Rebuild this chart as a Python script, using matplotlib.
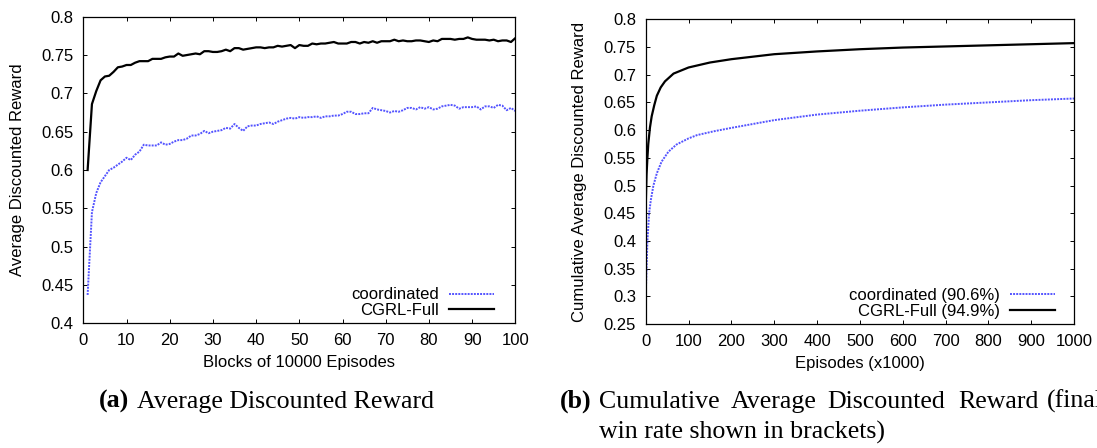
import matplotlib
matplotlib.use('Agg')
import matplotlib.pyplot as plt
import numpy as np

plt.rcParams['font.family'] = ['Liberation Sans', 'DejaVu Sans']

# ---------------- data (a): average discounted reward per block ----------------
blocks = np.arange(1, 101)
cgrl_a = [0.600, 0.686, 0.703, 0.717, 0.722, 0.723, 0.728, 0.734, 0.735, 0.737,
          0.737, 0.740, 0.742, 0.742, 0.742, 0.745, 0.745, 0.745, 0.747, 0.748,
          0.748, 0.752, 0.749, 0.750, 0.751, 0.752, 0.751, 0.755, 0.755, 0.754,
          0.754, 0.755, 0.757, 0.755, 0.759, 0.759, 0.757, 0.758, 0.759, 0.760,
          0.760, 0.759, 0.760, 0.760, 0.762, 0.761, 0.762, 0.763, 0.759, 0.763,
          0.762, 0.762, 0.765, 0.764, 0.765, 0.765, 0.766, 0.767, 0.765, 0.765,
          0.765, 0.767, 0.767, 0.765, 0.767, 0.766, 0.768, 0.766, 0.768, 0.768,
          0.768, 0.770, 0.768, 0.769, 0.768, 0.768, 0.769, 0.769, 0.768, 0.767,
          0.769, 0.768, 0.771, 0.771, 0.771, 0.770, 0.771, 0.771, 0.773, 0.771,
          0.770, 0.770, 0.770, 0.769, 0.770, 0.768, 0.769, 0.769, 0.767, 0.772]
coord_a = [0.437, 0.545, 0.570, 0.584, 0.592, 0.600, 0.603, 0.607, 0.611, 0.616,
           0.613, 0.620, 0.624, 0.633, 0.632, 0.632, 0.632, 0.636, 0.633, 0.634,
           0.637, 0.639, 0.639, 0.641, 0.645, 0.645, 0.647, 0.651, 0.648, 0.650,
           0.651, 0.652, 0.655, 0.654, 0.660, 0.655, 0.651, 0.657, 0.658, 0.658,
           0.660, 0.661, 0.662, 0.660, 0.663, 0.665, 0.667, 0.668, 0.667, 0.669,
           0.668, 0.669, 0.669, 0.670, 0.668, 0.670, 0.670, 0.671, 0.671, 0.673,
           0.676, 0.676, 0.673, 0.673, 0.674, 0.674, 0.681, 0.679, 0.678, 0.677,
           0.675, 0.677, 0.676, 0.678, 0.681, 0.681, 0.679, 0.682, 0.680, 0.682,
           0.679, 0.680, 0.683, 0.684, 0.685, 0.684, 0.680, 0.682, 0.682, 0.682,
           0.683, 0.679, 0.683, 0.683, 0.681, 0.685, 0.684, 0.678, 0.681, 0.677]

# ---------------- data (b): cumulative average discounted reward ----------------
ep_cgrl = [0, 1, 2, 4, 6, 10, 14, 20, 26, 35, 45, 65, 100, 150, 200, 300, 400,
           500, 600, 700, 800, 900, 1000]
cgrl_b = [0.460, 0.490, 0.520, 0.550, 0.575, 0.605, 0.625, 0.645, 0.662, 0.677,
          0.688, 0.702, 0.713, 0.722, 0.728, 0.737, 0.742, 0.746, 0.749, 0.751,
          0.753, 0.755, 0.757]
ep_coord = [0, 2, 4, 8, 12, 18, 26, 37, 53, 72, 100, 120, 160, 200, 250, 300,
            400, 500, 600, 700, 800, 900, 1000]
coord_b = [0.300, 0.350, 0.400, 0.450, 0.474, 0.500, 0.522, 0.543, 0.561, 0.574,
           0.585, 0.591, 0.598, 0.604, 0.611, 0.618, 0.628, 0.635, 0.641, 0.646,
           0.650, 0.654, 0.657]

W, H = 1097, 448
fig = plt.figure(figsize=(W / 100, H / 100), dpi=100)

blue = (0.33, 0.33, 1.0)
fs = 12


def style(ax):
    ax.tick_params(direction='in', top=True, right=True, length=3, width=0.7,
                   labelsize=fs, pad=7)
    for s in ax.spines.values():
        s.set_linewidth(0.9)


# panel (a)
ax1 = fig.add_axes([83.3 / W, 1 - 323.3 / H, (515.3 - 83.3) / W, (323.3 - 16.7) / H])
ax1.plot(blocks, coord_a, color=blue, lw=1.4, ls=(0, (1, 0.6)), label='coordinated')
ax1.plot(blocks, cgrl_a, color='black', lw=1.6, label='CGRL-Full')
ax1.set_xlim(0, 100)
ax1.set_ylim(0.4, 0.8)
ax1.set_xticks(np.arange(0, 101, 10))
ax1.set_yticks(np.arange(0.4, 0.801, 0.05))
ax1.set_yticklabels(['0.4', '0.45', '0.5', '0.55', '0.6', '0.65', '0.7', '0.75', '0.8'])
ax1.set_xlabel('Blocks of 10000 Episodes', fontsize=fs, labelpad=5)
ax1.set_ylabel('Average Discounted Reward', fontsize=fs, labelpad=12)
style(ax1)
ax1.legend(loc='lower right', bbox_to_anchor=(1 - 21 / 432, 5 / 306.6), frameon=False,
           markerfirst=False, fontsize=fs, handlelength=2.7, handletextpad=0.6,
           labelspacing=0.05, borderpad=0, borderaxespad=0)

# panel (b)
ax2 = fig.add_axes([645.7 / W, 1 - 324 / H, (1074 - 645.7) / W, (324 - 19.3) / H])
ax2.plot(ep_coord, coord_b, color=blue, lw=1.4, ls=(0, (1, 0.6)), label='coordinated (90.6%)')
ax2.plot(ep_cgrl, cgrl_b, color='black', lw=1.6, label='CGRL-Full (94.9%)')
ax2.set_xlim(0, 1000)
ax2.set_ylim(0.25, 0.8)
ax2.set_xticks(np.arange(0, 1001, 100))
ax2.set_yticks(np.arange(0.25, 0.801, 0.05))
ax2.set_yticklabels(['0.25', '0.3', '0.35', '0.4', '0.45', '0.5', '0.55', '0.6',
                     '0.65', '0.7', '0.75', '0.8'])
ax2.set_xlabel('Episodes (x1000)', fontsize=fs, labelpad=5)
ax2.set_ylabel('Cumulative Average Discounted Reward', fontsize=fs, labelpad=12)
style(ax2)
ax2.legend(loc='lower right', bbox_to_anchor=(1 - 19 / 428.3, 5 / 304.7), frameon=False,
           markerfirst=False, fontsize=fs, handlelength=2.7, handletextpad=0.6,
           labelspacing=0.05, borderpad=0, borderaxespad=0)

# captions (the right one runs off the page edge, as in the source)
cap = dict(family=['Liberation Serif', 'DejaVu Serif'], fontsize=18.6, va='baseline')
fig.text(99 / W, 1 - 408 / H, '(a)', fontweight='bold', **cap)
fig.text(137 / W, 1 - 408 / H, 'Average Discounted Reward', **cap)
fig.text(559.6 / W, 1 - 408 / H, '(b)', fontweight='bold', **cap)
for word, x in [('Cumulative', 598.7), ('Average', 731), ('Discounted', 827.5),
                ('Reward', 958), ('(final', 1047)]:
    fig.text(x / W, 1 - 408 / H, word, **cap)
fig.text(598.7 / W, 1 - 439 / H, 'win rate shown in brackets)', **cap)

fig.savefig('out.png', dpi=100)
